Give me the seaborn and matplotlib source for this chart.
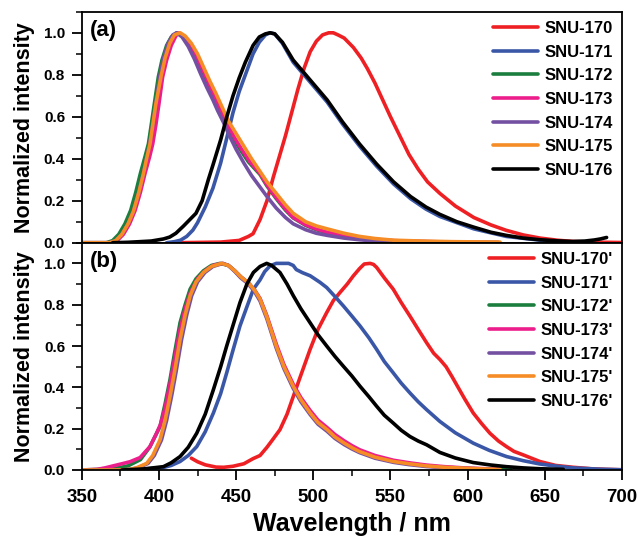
import matplotlib
matplotlib.use("Agg")
import matplotlib.pyplot as plt
from matplotlib.ticker import MultipleLocator
import pandas as pd
import seaborn as sns

# ---- panel (a) ----
wl_a_170 = [412, 440, 452, 458, 461, 465.5, 470, 474, 478, 482, 486, 490, 494, 498, 502, 506, 510, 513,
            516, 520, 526, 531, 535, 540, 545, 550, 556, 562, 568, 574, 582, 592, 604, 615, 625, 636,
            647, 658, 668, 680, 700]
in_a_170 = [0, 0.003, 0.011, 0.03, 0.043, 0.11, 0.2, 0.31, 0.41, 0.51, 0.62, 0.73, 0.83, 0.91, 0.96, 0.99, 1.0, 1.0,
            0.99, 0.975, 0.93, 0.88, 0.83, 0.76, 0.68, 0.60, 0.51, 0.42, 0.35, 0.29, 0.235, 0.175, 0.12, 0.085, 0.059, 0.037,
            0.022, 0.012, 0.006, 0.003, 0.001]

wl_a_171 = [405, 410, 414, 418, 422, 425, 430, 435, 440, 444, 448, 452, 456, 461, 465, 469, 472, 475, 480,
            487, 498, 509, 519, 530, 541, 552, 563, 573, 582, 604, 625, 647, 660, 668]
in_a_171 = [0, 0.005, 0.012, 0.03, 0.06, 0.095, 0.17, 0.26, 0.38, 0.5, 0.62, 0.72, 0.8, 0.9, 0.955, 0.99, 1.0, 0.995, 0.95,
            0.86, 0.765, 0.67, 0.565, 0.46, 0.365, 0.28, 0.21, 0.16, 0.125, 0.066, 0.03, 0.012, 0.005, 0.003]

wl_a_172 = [350, 366, 370, 374, 378, 381.7, 385, 388, 391, 393.2, 395, 397, 399.6, 402, 405, 408, 411.5, 415, 419,
            423, 427, 431, 435, 439, 443, 448, 453, 458, 465.5, 470, 476, 482, 487, 495, 502, 509, 520, 530,
            540, 552, 570, 590, 620]
in_a_172 = [0, 0, 0.01, 0.04, 0.09, 0.154, 0.24, 0.33, 0.41, 0.471, 0.56, 0.66, 0.789, 0.87, 0.94, 0.98, 1.0, 0.985, 0.945,
            0.895, 0.83, 0.765, 0.70, 0.635, 0.57, 0.50, 0.44, 0.385, 0.325, 0.27, 0.21, 0.155, 0.118, 0.083, 0.062, 0.048, 0.033, 0.022,
            0.015, 0.009, 0.005, 0.003, 0.001]

wl_a_173 = [350, 369, 373, 377, 381, 384.6, 388, 391, 394, 396, 398, 400, 402.4, 405, 408, 411, 413, 416, 420,
            424, 428, 432, 436, 440, 444, 449, 454, 459, 465.5, 470, 476, 482, 487, 495, 502, 509, 520, 530,
            540, 552, 570, 590, 620]
in_a_173 = [0, 0, 0.01, 0.04, 0.09, 0.154, 0.24, 0.33, 0.41, 0.471, 0.56, 0.66, 0.789, 0.87, 0.94, 0.985, 1.0, 0.985, 0.945,
            0.895, 0.83, 0.765, 0.70, 0.635, 0.57, 0.50, 0.44, 0.385, 0.33, 0.275, 0.215, 0.16, 0.12, 0.085, 0.065, 0.05, 0.034, 0.023,
            0.016, 0.01, 0.006, 0.003, 0.001]

wl_a_174 = [350, 368, 372, 376, 380, 383.5, 387, 390, 392, 394, 396, 398, 400.5, 403, 406, 409, 411.5, 415, 419,
            423, 427, 431, 435, 438, 441.7, 446, 450, 455, 460, 465.5, 470, 476, 482, 487, 495, 502, 509, 520,
            530, 540, 552, 570, 600]
in_a_174 = [0, 0, 0.01, 0.04, 0.09, 0.15, 0.24, 0.33, 0.4, 0.47, 0.56, 0.66, 0.79, 0.88, 0.95, 0.99, 1.0, 0.98, 0.935,
            0.875, 0.805, 0.74, 0.68, 0.63, 0.575, 0.505, 0.445, 0.38, 0.32, 0.265, 0.22, 0.165, 0.12, 0.09, 0.062, 0.045, 0.035, 0.022,
            0.014, 0.008, 0.004, 0.002, 0.001]

wl_a_175 = [350, 368, 372, 376, 380, 383.5, 387, 390, 392, 394.2, 396, 398, 401.3, 404, 407, 410, 413.7, 417, 421,
            425, 429, 433, 437, 441, 445, 450, 455, 460, 465, 470, 476, 482, 487, 495, 502, 509, 520, 530,
            540, 552, 570, 590, 605, 621]
in_a_175 = [0, 0, 0.01, 0.04, 0.09, 0.15, 0.24, 0.33, 0.4, 0.47, 0.56, 0.66, 0.79, 0.88, 0.95, 0.99, 1.0, 0.985, 0.95,
            0.9, 0.835, 0.77, 0.71, 0.645, 0.58, 0.52, 0.46, 0.40, 0.345, 0.29, 0.235, 0.18, 0.14, 0.1, 0.08, 0.066, 0.045, 0.03,
            0.02, 0.012, 0.008, 0.005, 0.004, 0.003]

wl_a_176 = [370, 380, 395, 403, 407, 411, 416, 420, 424, 428, 432, 435, 440, 444, 448, 452, 456, 461, 465, 469,
            472, 475, 480, 487, 498, 509, 519, 530, 541, 552, 563, 573, 582, 593, 604, 615, 625, 636, 647,
            658, 668, 676, 682, 686, 690]
in_a_176 = [0, 0.002, 0.008, 0.018, 0.027, 0.045, 0.08, 0.11, 0.14, 0.2, 0.3, 0.37, 0.49, 0.6, 0.7, 0.785, 0.86, 0.94, 0.98, 0.995,
            1.0, 0.995, 0.955, 0.87, 0.775, 0.68, 0.575, 0.47, 0.375, 0.29, 0.22, 0.17, 0.135, 0.1, 0.074, 0.05, 0.035, 0.022, 0.014,
            0.009, 0.006, 0.008, 0.013, 0.018, 0.025]

# ---- panel (b) ----
wl_b_170 = [421, 425, 430, 437, 442, 448, 455, 461, 465.5, 470, 474, 478.4, 483, 487.1, 492, 497.9, 503, 508.7,
            513, 517.3, 522, 526, 530, 533, 536.8, 539, 541.1, 546, 551.8, 557, 562.6, 568, 573.4, 578, 582,
            586, 590, 598, 603.6, 609, 614.4, 620, 625.2, 630, 636, 646.8, 657, 668.4, 680, 690, 700]
in_b_170 = [0.057, 0.04, 0.025, 0.014, 0.013, 0.018, 0.03, 0.055, 0.07, 0.11, 0.15, 0.195, 0.27, 0.357, 0.46, 0.583, 0.68, 0.762,
            0.82, 0.859, 0.9, 0.94, 0.975, 0.997, 1.0, 0.995, 0.98, 0.93, 0.875, 0.81, 0.745, 0.68, 0.616, 0.565, 0.535,
            0.5, 0.45, 0.345, 0.276, 0.225, 0.178, 0.14, 0.113, 0.09, 0.073, 0.041, 0.022, 0.013, 0.006, 0.003, 0.001]

wl_b_171 = [376, 390, 403, 408, 413.7, 419, 424.5, 430, 435.3, 440, 443.9, 448, 452.5, 457, 461.2, 465.5, 468.5,
            472, 476, 480, 484, 487, 489, 493, 498, 502, 504.4, 508.7, 514, 519.5, 525, 530.3, 536, 541.1, 546,
            551.8, 557, 562.6, 568, 573.4, 582, 592, 603.6, 614, 625.2, 636, 646.8, 658, 668.4, 685, 700]
in_b_171 = [0, 0.004, 0.012, 0.022, 0.041, 0.07, 0.113, 0.185, 0.276, 0.37, 0.47, 0.58, 0.697, 0.79, 0.875, 0.92, 0.96,
            0.988, 1.0, 1.0, 1.0, 0.99, 0.97, 0.955, 0.94, 0.92, 0.908, 0.883, 0.84, 0.794, 0.745, 0.697, 0.64, 0.583, 0.525,
            0.47, 0.42, 0.373, 0.33, 0.292, 0.235, 0.18, 0.13, 0.095, 0.065, 0.045, 0.029, 0.018, 0.01, 0.004, 0.001]

wl_b_172 = [350, 370, 380, 388, 394, 398, 400.7, 404, 407.2, 410, 413.7, 417, 420.2, 424, 428.8, 434, 439.6, 445,
            449, 453, 458, 462, 465.5, 470, 476, 481, 487, 492, 498, 503, 509, 514, 520, 525, 530, 540, 552,
            562, 573, 585, 600, 610, 628]
in_b_172 = [0, 0.005, 0.02, 0.05, 0.11, 0.17, 0.21, 0.32, 0.438, 0.56, 0.713, 0.8, 0.875, 0.925, 0.964, 0.99, 1.0, 0.99,
            0.965, 0.935, 0.905, 0.87, 0.827, 0.74, 0.6, 0.5, 0.405, 0.34, 0.276, 0.23, 0.195, 0.16, 0.13, 0.108, 0.089, 0.062, 0.041,
            0.03, 0.02, 0.013, 0.008, 0.005, 0.002]

wl_b_173 = [350, 360, 365, 370.5, 376, 381.3, 387.8, 394.2, 398, 401, 404, 407, 410, 413.7, 417, 420.5, 425, 430,
            435, 441, 445, 449, 453, 458, 462, 465.5, 470, 476, 481, 487, 492, 498, 503, 509, 514, 520, 525,
            530, 540, 552, 562, 573, 585, 600, 620]
in_b_173 = [0, 0.003, 0.01, 0.02, 0.03, 0.04, 0.06, 0.113, 0.17, 0.22, 0.3, 0.41, 0.53, 0.68, 0.78, 0.86, 0.925, 0.965,
            0.99, 1.0, 0.99, 0.965, 0.935, 0.905, 0.87, 0.83, 0.745, 0.61, 0.51, 0.415, 0.35, 0.288, 0.242, 0.205, 0.172, 0.141, 0.118,
            0.098, 0.07, 0.047, 0.035, 0.024, 0.016, 0.009, 0.004]

wl_b_174 = [350, 376, 382, 387, 393, 397, 401.7, 405, 408.2, 411, 414.7, 418, 421.2, 425, 429.8, 435, 441.5, 445,
            449, 453, 458, 462, 465.5, 470, 476, 481, 487, 492, 498, 503, 509, 514, 520, 525, 530, 540, 552,
            562, 573, 585, 600, 615]
in_b_174 = [0, 0, 0.003, 0.012, 0.032, 0.07, 0.146, 0.24, 0.357, 0.47, 0.632, 0.75, 0.843, 0.91, 0.956, 0.985, 1.0, 0.99,
            0.962, 0.93, 0.9, 0.862, 0.818, 0.73, 0.59, 0.49, 0.395, 0.33, 0.268, 0.222, 0.187, 0.153, 0.123, 0.102, 0.084, 0.057, 0.037,
            0.026, 0.017, 0.011, 0.006, 0.003]

wl_b_175 = [350, 375, 381.3, 386, 392.1, 396, 400.7, 404, 407.2, 410, 413.7, 417, 420.2, 424, 428.8, 434, 440.7, 445,
            449, 453, 458, 462, 465.5, 470, 476, 481, 487, 492, 498, 503, 509, 514, 520, 525, 530, 540, 552,
            562, 573, 585, 600, 610, 621]
in_b_175 = [0, 0, 0.003, 0.012, 0.032, 0.07, 0.146, 0.24, 0.357, 0.47, 0.632, 0.75, 0.843, 0.91, 0.956, 0.985, 1.0, 0.99,
            0.965, 0.935, 0.905, 0.87, 0.827, 0.74, 0.6, 0.5, 0.405, 0.34, 0.276, 0.23, 0.195, 0.16, 0.13, 0.108, 0.089, 0.062, 0.041,
            0.03, 0.02, 0.013, 0.008, 0.005, 0.003]

wl_b_176 = [376, 390, 402.9, 408, 413.7, 419, 424.5, 430, 435.3, 440, 443.9, 448, 452.5, 457, 461.2, 465.5, 469.8,
            473, 478.4, 483, 487.1, 492, 497.9, 503, 508.7, 514, 519.5, 525, 530.3, 536, 541.1, 546, 551.8, 557,
            562.6, 568, 573.4, 582, 592, 603.6, 615, 625.2, 636, 646.8, 662]
in_b_176 = [0, 0.005, 0.016, 0.035, 0.065, 0.11, 0.178, 0.27, 0.389, 0.5, 0.6, 0.7, 0.81, 0.9, 0.956, 0.985, 1.0,
            0.99, 0.956, 0.9, 0.843, 0.78, 0.713, 0.655, 0.6, 0.55, 0.502, 0.455, 0.405, 0.355, 0.308, 0.265, 0.227, 0.192,
            0.162, 0.14, 0.122, 0.085, 0.058, 0.036, 0.024, 0.016, 0.01, 0.006, 0.003]

names = ["SNU-170", "SNU-171", "SNU-172", "SNU-173", "SNU-174", "SNU-175", "SNU-176"]
colors = ["#EE2024", "#3A57A7", "#1B7D3E", "#EC1E8C", "#7450A2", "#F68C25", "#000000"]

panel_a = [(wl_a_170, in_a_170), (wl_a_171, in_a_171), (wl_a_172, in_a_172), (wl_a_173, in_a_173),
           (wl_a_174, in_a_174), (wl_a_175, in_a_175), (wl_a_176, in_a_176)]
panel_b = [(wl_b_170, in_b_170), (wl_b_171, in_b_171), (wl_b_172, in_b_172), (wl_b_173, in_b_173),
           (wl_b_174, in_b_174), (wl_b_175, in_b_175), (wl_b_176, in_b_176)]


def make_df(panel, suffix):
    parts = []
    for name, (wl, it) in zip(names, panel):
        parts.append(pd.DataFrame({"wl": wl, "I": it, "sample": name + suffix}))
    return pd.concat(parts, ignore_index=True)


df_a = make_df(panel_a, "")
df_b = make_df(panel_b, "'")

sns.set_style("ticks", {"axes.edgecolor": "black", "xtick.color": "black",
                        "ytick.color": "black", "text.color": "black",
                        "axes.labelcolor": "black"})
plt.rcParams["font.family"] = ["Liberation Sans", "DejaVu Sans"]
plt.rcParams["font.weight"] = "bold"

fig = plt.figure(figsize=(6.41, 5.37), dpi=100)
ax_a = fig.add_axes([0.1275, 0.548, 0.8429, 0.430])
ax_b = fig.add_axes([0.1275, 0.1248, 0.8429, 0.4232])

for ax, df, suffix, tag in [(ax_a, df_a, "", "(a)"), (ax_b, df_b, "'", "(b)")]:
    hue_order = [n + suffix for n in names]
    sns.lineplot(data=df, x="wl", y="I", hue="sample", hue_order=hue_order,
                 palette=colors, estimator=None, sort=False, lw=2.6, ax=ax)
    handles, labels = ax.get_legend_handles_labels()
    ax.legend(handles, labels, loc="upper right", frameon=False,
              prop={"size": 12, "weight": "bold"}, handlelength=2.7,
              handletextpad=0.4, labelspacing=0.52, borderaxespad=0.15)
    ax.set_xlim(350, 700)
    ax.set_ylim(0, 1.1)
    ax.yaxis.set_major_locator(MultipleLocator(0.2))
    ax.yaxis.set_minor_locator(MultipleLocator(0.1))
    ax.tick_params(axis="y", which="major", length=7, width=1.3, labelsize=11, pad=5)
    ax.tick_params(axis="y", which="minor", length=4, width=1.1)
    ax.set_ylabel("Normalized intensity", fontsize=15.5, fontweight="bold", labelpad=6)
    ax.set_xlabel("")
    for sp in ax.spines.values():
        sp.set_linewidth(1.3)
        sp.set_color("black")
    ax.text(0.015, 0.965, tag, transform=ax.transAxes, fontsize=16,
            fontweight="bold", va="top", ha="left")
    for lab in ax.get_yticklabels():
        lab.set_fontweight("bold")

ax_a.set_xticks([])
ax_b.xaxis.set_major_locator(MultipleLocator(50))
ax_b.xaxis.set_minor_locator(MultipleLocator(25))
ax_b.tick_params(axis="x", which="major", length=7, width=1.3, labelsize=13.5, pad=7)
ax_b.tick_params(axis="x", which="minor", length=4, width=1.1)
for lab in ax_b.get_xticklabels():
    lab.set_fontweight("bold")
ax_b.set_xlabel("Wavelength / nm", fontsize=18, fontweight="bold", labelpad=4)

fig.savefig("out.png", dpi=100)
